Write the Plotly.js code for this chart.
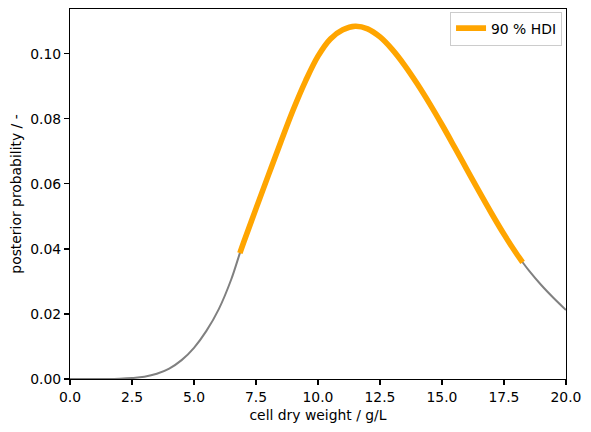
<!DOCTYPE html>
<html>
<head>
<meta charset="utf-8">
<script src="https://cdn.plot.ly/plotly-3.0.1.min.js"></script>
<style>html,body{margin:0;padding:0;background:#fff;}#chart{width:591px;height:432px;}</style>
</head>
<body>
<div id="chart"></div>
<script>
// cell dry weight grid (g/L)
const cdw = [0, 0.5, 1.0, 1.5, 2.0, 2.5, 3.0, 3.5, 4.0, 4.5, 5.0, 5.5, 6.0, 6.5, 6.85, 7.0, 7.5, 8.0, 8.5, 9.0, 9.5, 10.0, 10.5, 11.0, 11.5, 12.0, 12.5, 13.0, 13.5, 14.0, 14.5, 15.0, 15.5, 16.0, 16.5, 17.0, 17.5, 18.0, 18.25, 18.5, 19.0, 19.5, 20.0];
// posterior probability
const posterior = [0, 0, 0, 0.00002, 0.0001, 0.0003, 0.0007, 0.0016, 0.0032, 0.0058, 0.0096, 0.0148, 0.0215, 0.0306, 0.0387, 0.0420, 0.0524, 0.0627, 0.0729, 0.0828, 0.0917, 0.0993, 0.1046, 0.1074, 0.1085, 0.1077, 0.1052, 0.1013, 0.0964, 0.0908, 0.0847, 0.0782, 0.0714, 0.0645, 0.0576, 0.0509, 0.0445, 0.0386, 0.0359, 0.0334, 0.0289, 0.0249, 0.0212];
// 90 % highest density interval bounds
const hdiLow = 6.85;
const hdiHigh = 18.25;
const hdiLabel = "90 % HDI";

const hdiX = [], hdiY = [];
cdw.forEach((x, i) => { if (x >= hdiLow && x <= hdiHigh) { hdiX.push(x); hdiY.push(posterior[i]); } });

const font = {family: "DejaVu Sans, sans-serif", size: 13.9, color: "#000"};

const data = [
  {x: cdw, y: posterior, type: "scatter", mode: "lines", line: {color: "#808080", width: 2, shape: "spline", smoothing: 1}, showlegend: false, hoverinfo: "skip"},
  {x: hdiX, y: hdiY, type: "scatter", mode: "lines", name: hdiLabel, line: {color: "#FFA500", width: 5.6, shape: "spline", smoothing: 1}}
];

const axisCommon = {
  showline: true, linecolor: "#000", linewidth: 1.1, mirror: true,
  ticks: "outside", ticklen: 5, tickwidth: 1.1, tickcolor: "#000",
  showgrid: false, zeroline: false, tickfont: font
};

const layout = {
  width: 591, height: 432,
  margin: {l: 70, r: 25, t: 9, b: 53, pad: 0},
  paper_bgcolor: "#fff", plot_bgcolor: "#fff",
  font: font,
  xaxis: Object.assign({}, axisCommon, {range: [0, 20], tickmode: "linear", tick0: 0, dtick: 2.5, tickformat: ".1f",
    title: {text: "cell dry weight / g/L", font: font, standoff: 6}}),
  yaxis: Object.assign({}, axisCommon, {range: [0, 0.1138], tickmode: "linear", tick0: 0, dtick: 0.02, tickformat: ".2f",
    title: {text: "posterior probability / -", font: font, standoff: 5}}),
  legend: {x: 0.992, y: 0.993, xanchor: "right", yanchor: "top", bgcolor: "rgba(255,255,255,0.8)", bordercolor: "#cccccc", borderwidth: 1, font: font},
  showlegend: true
};

Plotly.newPlot("chart", data, layout, {displayModeBar: false, staticPlot: true});
</script>
</body>
</html>
